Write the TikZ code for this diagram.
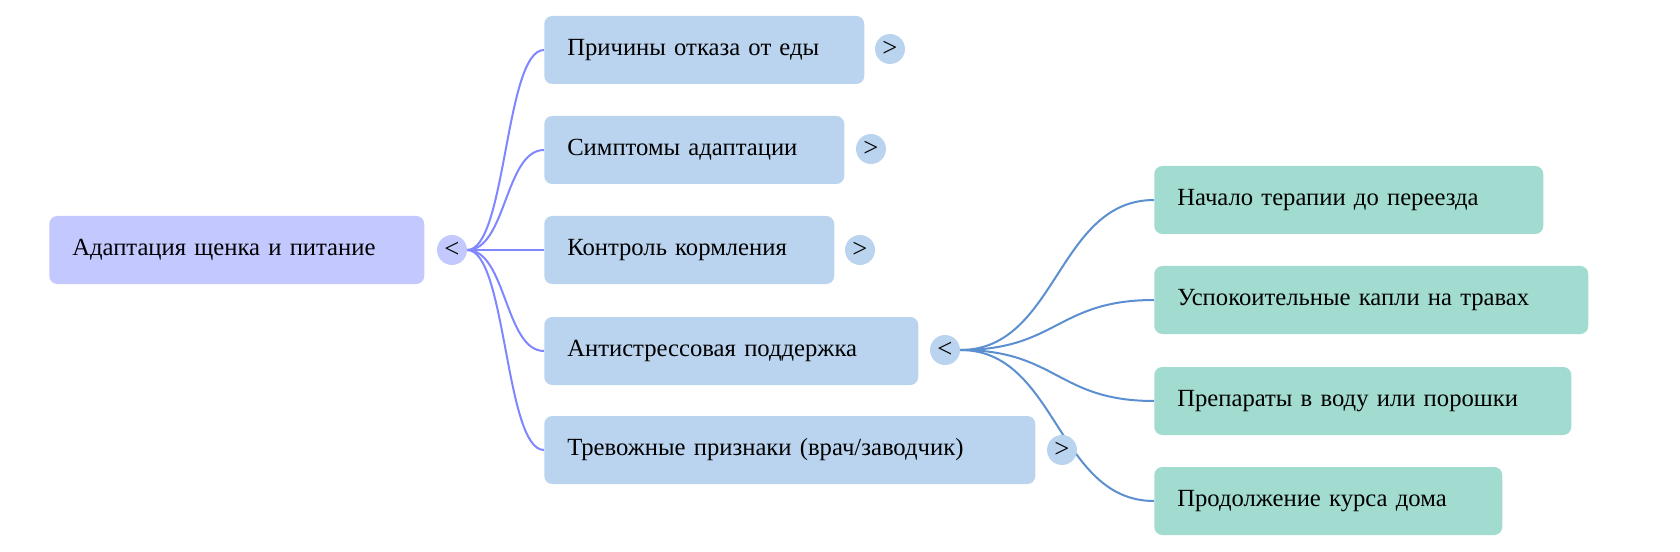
\documentclass[tikz,border=0pt]{standalone}
\usepackage{fontspec}
\setmainfont{Liberation Serif}
\usetikzlibrary{calc,backgrounds}
\definecolor{rootfill}{HTML}{C3C8FF}
\definecolor{midfill}{HTML}{BAD4EF}
\definecolor{leaffill}{HTML}{A2DCD1}
\definecolor{rootedge}{HTML}{7F86FF}
\definecolor{midedge}{HTML}{5B8FCF}
\tikzset{
  x=0.75pt, y=-0.75pt,
  box/.style={rounded corners=6pt, inner xsep=17.25pt, inner ysep=0pt, align=left,
    minimum height=51pt, anchor=west, font=\fontsize{18.5}{22}\selectfont, text=black},
  rootbox/.style={box, fill=rootfill},
  midbox/.style={box, fill=midfill},
  leafbox/.style={box, fill=leaffill},
  toggle/.style={circle, minimum size=22.5pt, inner sep=0pt, font=\fontsize{20}{22}\selectfont},
  redge/.style={draw=rootedge, line width=1.5pt},
  medge/.style={draw=midedge, line width=1.5pt},
}
\begin{document}
\begin{tikzpicture}
\useasboundingbox (0,0) rectangle (1680,552);
% root
\node[rootbox, text width=329*0.75pt] (root) at (49,250) {Адаптация щенка и питание};
\node[toggle, fill=rootfill] (rt) at (452,250) {\textless};
% children
\node[midbox, text width=274*0.75pt] (c1) at (544,50) {Причины отказа от еды};
\node[midbox, text width=254*0.75pt] (c2) at (544,150) {Симптомы адаптации};
\node[midbox, text width=244*0.75pt] (c3) at (544,250) {Контроль кормления};
\node[midbox, text width=328*0.75pt] (c4) at (544,351) {Антистрессовая поддержка};
\node[midbox, text width=445*0.75pt] (c5) at (544,450) {Тревожные признаки (врач/заводчик)};
\node[toggle, fill=midfill] (t1) at (890,49) {\textgreater};
\node[toggle, fill=midfill] (t2) at (871,149) {\textgreater};
\node[toggle, fill=midfill] (t3) at (860,250) {\textgreater};
\node[toggle, fill=midfill] (t4) at (945,350) {\textless};
\node[toggle, fill=midfill] (t5) at (1062,450) {\textgreater};
% leaves
\node[leafbox, text width=343*0.75pt] (g1) at (1154,200) {Начало терапии до переезда};
\node[leafbox, text width=388*0.75pt] (g2) at (1154,300) {Успокоительные капли на травах};
\node[leafbox, text width=371*0.75pt] (g3) at (1154,401) {Препараты в воду или порошки};
\node[leafbox, text width=302*0.75pt] (g4) at (1154,501) {Продолжение курса дома};
\begin{scope}[on background layer]
\foreach \c in {c1,c2,c3,c4,c5}{
  \draw[redge] (rt.east) .. controls ($(rt.east)+(39,0)$) and ($(\c.west)-(39,0)$) .. (\c.west);
}
\foreach \g in {g1,g2,g3,g4}{
  \draw[medge] (t4.east) .. controls ($(t4.east)+(97,0)$) and ($(\g.west)-(97,0)$) .. (\g.west);
}
\end{scope}
\end{tikzpicture}
\end{document}
